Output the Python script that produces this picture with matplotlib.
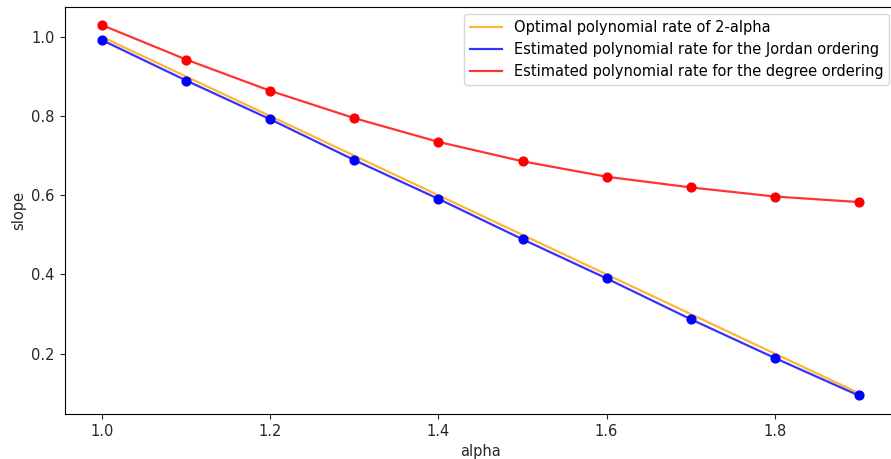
import matplotlib
matplotlib.use("Agg")
import matplotlib.pyplot as plt

alpha = [1.0, 1.1, 1.2, 1.3, 1.4, 1.5, 1.6, 1.7, 1.8, 1.9]
optimal = [1.0, 0.9, 0.8, 0.7, 0.6, 0.5, 0.4, 0.3, 0.2, 0.1]
jordan = [0.992, 0.890, 0.792, 0.689, 0.591, 0.489, 0.390, 0.287, 0.189, 0.094]
degree = [1.030, 0.943, 0.864, 0.795, 0.735, 0.686, 0.647, 0.620, 0.597, 0.583]

fs = 10.5
fig = plt.figure(figsize=(8.91, 4.59), dpi=100)
left, right, top, bottom = 64.5, 896.5, 6.7, 414
ax = fig.add_axes([left/891, 1-bottom/459, (right-left)/891, (bottom-top)/459])

ax.plot(alpha, optimal, color='orange', alpha=0.8, lw=1.6, label='Optimal polynomial rate of 2-alpha')
ax.plot(alpha, jordan, color='blue', alpha=0.8, lw=1.6, label='Estimated polynomial rate for the Jordan ordering')
ax.plot(alpha, degree, color='red', alpha=0.8, lw=1.6, label='Estimated polynomial rate for the degree ordering')
ax.scatter(alpha, jordan, color='blue', s=40, zorder=3)
ax.scatter(alpha, degree, color='red', s=40, zorder=3)

ax.set_xlabel('alpha', fontsize=fs, color='#262626')
ax.set_ylabel('slope', fontsize=fs, color='#262626')
ax.set_xticks([1.0, 1.2, 1.4, 1.6, 1.8])
ax.set_yticks([0.2, 0.4, 0.6, 0.8, 1.0])
ax.tick_params(labelsize=fs, colors='#262626')
ax.legend(loc='upper right', fontsize=fs, handlelength=2.2)

fig.savefig('out.png', dpi=100)
